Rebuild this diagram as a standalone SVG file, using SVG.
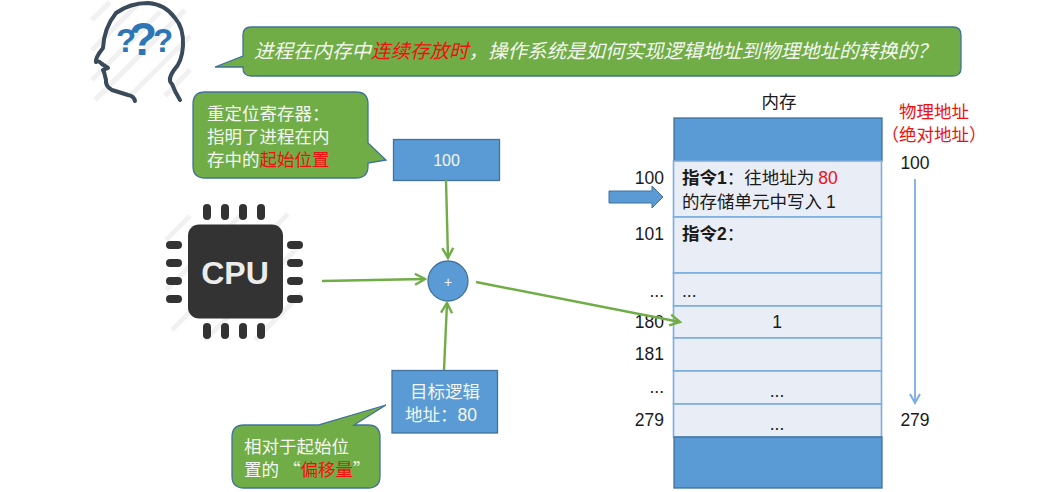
<svg xmlns="http://www.w3.org/2000/svg" width="1056" height="492" viewBox="0 0 1056 492">
<style>
text{font-family:"Liberation Sans","Noto Sans CJK SC",sans-serif;font-size:17.5px;fill:#1a1a1a}
.cjk{font-family:"Noto Sans CJK SC",sans-serif}
.w{fill:#f4f7f0}.r{fill:#f01010}.m{text-anchor:middle}
.call{fill:#70ad47;stroke:#41719c;stroke-width:1.3}
.box{fill:#5b9bd5;stroke:#41719c;stroke-width:1.3}
.cell{fill:#e9edf6;stroke:#7baee0;stroke-width:1.6}
.g{fill:none;stroke:#70ad47;stroke-width:2.4}
.hatch{stroke:#f1f1f1;stroke-width:5}
.pin{fill:#333;}
</style>
<defs>
<marker id="ga" markerUnits="userSpaceOnUse" markerWidth="14" markerHeight="14" refX="11" refY="7" orient="auto"><path d="M1,1.5 L11,7 L1,12.500" fill="none" stroke="#70ad47" stroke-width="2.400"/></marker>
<marker id="ba" markerUnits="userSpaceOnUse" markerWidth="14" markerHeight="14" refX="11" refY="7" orient="auto"><path d="M2,2 L11,7 L2,12" fill="none" stroke="#7baee0" stroke-width="2"/></marker>
</defs>

<g id="head">
<path class="hatch" d="M92,20 L110,2 M92,50 L140,2 M92,80 L160,12 M95,100 L185,10 M130,96 L190,36 M165,96 L190,70"/>
<path d="M135,101 Q134,96 128,95 L112,90 Q105,86 106,80 L104,72 L103,70 L108,68 L102,64 Q98,60 96,62 Q95,58 103,48 Q104,28 116,13 Q130,3 148,3 Q165,4 175,18 Q184,28 183,46 Q182,62 174,70 Q167,80 172,84 Q175,92 180,100" fill="none" stroke="#3a4a5a" stroke-width="4" stroke-linecap="round" stroke-linejoin="round"/>
<text x="143" y="55" class="m" style="font-size:46px;font-weight:bold;fill:#2e75b6">?</text>
<text x="126" y="52" class="m" style="font-size:33px;font-weight:bold;fill:#2e75b6">?</text>
<text x="163" y="52" class="m" style="font-size:33px;font-weight:bold;fill:#2e75b6">?</text>
</g>

<g id="question">
<path class="call" d="M251,27 H953 Q961,27 961,35 V68 Q961,76 953,76 H251 Q243,76 243,68 L243,67 L215,67 L243,56 V35 Q243,27 251,27 Z"/>
<text x="254" y="58" class="cjk" style="font-size:19.500px;font-style:italic;fill:#f4f7f0">进程在内存中<tspan class="r">连续存放时</tspan>，操作系统是如何实现逻辑地址到物理地址的转换的？</text>
</g>

<g id="reloc-note">
<path class="call" d="M205,92 H356 Q368,92 368,104 V143 L386,160 L368,163 V166 Q368,178 356,178 H205 Q193,178 193,166 V104 Q193,92 205,92 Z"/>
<text x="207" y="120" class="cjk w" style="font-size:17.500px">重定位寄存器：</text>
<text x="207" y="143" class="cjk w" style="font-size:17.500px">指明了进程在内</text>
<text x="207" y="166" class="cjk w" style="font-size:17.500px">存中的<tspan class="r">起始位置</tspan></text>
</g>

<g id="reg-100">
<rect class="box" x="393.500" y="139.500" width="106" height="41"/>
<text x="446.500" y="166" class="m w" style="font-size:16px">100</text>
</g>

<g id="cpu">
<path class="hatch" d="M166,240 L190,216 M166,290 L240,216 M172,330 L288,214 M205,340 L300,245 M255,340 L302,293"/>
<rect x="188" y="224.500" width="95" height="94" rx="11" fill="#333"/>
<g class="pin">
<rect x="203" y="204" width="8" height="16" rx="4"/><rect x="221" y="204" width="8" height="16" rx="4"/><rect x="239" y="204" width="8" height="16" rx="4"/><rect x="257" y="204" width="8" height="16" rx="4"/>
<rect x="203" y="323" width="8" height="16" rx="4"/><rect x="221" y="323" width="8" height="16" rx="4"/><rect x="239" y="323" width="8" height="16" rx="4"/><rect x="257" y="323" width="8" height="16" rx="4"/>
<rect x="166" y="241" width="16" height="8" rx="4"/><rect x="166" y="259" width="16" height="8" rx="4"/><rect x="166" y="277" width="16" height="8" rx="4"/><rect x="166" y="295" width="16" height="8" rx="4"/>
<rect x="287" y="241" width="16" height="8" rx="4"/><rect x="287" y="259" width="16" height="8" rx="4"/><rect x="287" y="277" width="16" height="8" rx="4"/><rect x="287" y="295" width="16" height="8" rx="4"/>
</g>
<text x="235" y="284" class="m" style="font-size:32px;font-weight:bold;fill:#ececec">CPU</text>
</g>

<g id="adder">
<circle class="box" cx="448" cy="281" r="20"/>
<text x="448" y="287" class="m w" style="font-size:14px">+</text>
</g>

<g id="target">
<rect class="box" x="392" y="370.500" width="105.500" height="62.500"/>
<text x="445" y="398" class="m cjk w" style="font-size:17.500px">目标逻辑</text>
<text x="405" y="421" class="cjk w" style="font-size:17.500px">地址：<tspan style="font-family:'Liberation Sans'">80</tspan></text>
</g>

<g id="offset-note">
<path class="call" d="M244,425 H318 L386,405 L354,425 H368 Q380,425 380,437 V476 Q380,488 368,488 H244 Q232,488 232,476 V437 Q232,425 244,425 Z"/>
<text x="244" y="453" class="cjk w" style="font-size:17.500px">相对于起始位</text>
<text x="244" y="476" class="cjk w" style="font-size:17.500px">置的 “<tspan class="r">偏移量</tspan>”</text>
</g>

<g id="memory">
<text x="779" y="108" class="m cjk" style="font-size:17.500px">内存</text>
<rect class="box" x="674" y="118" width="208" height="43"/>
<rect class="cell" x="673.500" y="161" width="208" height="56"/>
<rect class="cell" x="673.500" y="217" width="208" height="56"/>
<rect class="cell" x="673.500" y="273" width="208" height="33"/>
<rect class="cell" x="673.500" y="306" width="208" height="32"/>
<rect class="cell" x="673.500" y="338" width="208" height="33"/>
<rect class="cell" x="673.500" y="371" width="208" height="33"/>
<rect class="cell" x="673.500" y="404" width="208" height="33"/>
<rect class="box" x="674" y="437" width="208" height="51"/>
<text x="682" y="184" class="cjk"><tspan font-weight="bold">指令</tspan><tspan font-weight="bold" style="font-family:'Liberation Sans'">1</tspan>：往地址为 <tspan class="r" style="font-family:'Liberation Sans'">80</tspan></text>
<text x="682" y="208" class="cjk">的存储单元中写入 <tspan style="font-family:'Liberation Sans'">1</tspan></text>
<text x="682" y="240" class="cjk"><tspan font-weight="bold">指令</tspan><tspan font-weight="bold" style="font-family:'Liberation Sans'">2</tspan>：</text>
<text x="682" y="297">...</text>
<text x="777" y="328" class="m">1</text>
<text x="777" y="397" class="m">...</text>
<text x="777" y="430" class="m">...</text>
</g>

<g id="addr-labels">
<text x="664" y="184" text-anchor="end">100</text>
<text x="664" y="240" text-anchor="end">101</text>
<text x="664" y="297" text-anchor="end">...</text>
<text x="664" y="328" text-anchor="end">180</text>
<text x="664" y="360" text-anchor="end">181</text>
<text x="664" y="393" text-anchor="end">...</text>
<text x="664" y="426" text-anchor="end">279</text>
<text x="934" y="118" class="m cjk r" style="font-size:17.500px">物理地址</text>
<text x="934" y="141" class="m cjk r" style="font-size:17.500px">（绝对地址）</text>
<text x="915" y="169" class="m">100</text>
<text x="915" y="426" class="m">279</text>
</g>

<g id="connectors">
<path class="g" marker-end="url(#ga)" d="M446,180 L448,258"/>
<path class="g" marker-end="url(#ga)" d="M322,281 L425,279"/>
<path class="g" marker-end="url(#ga)" d="M444,370 L447,303"/>
<path class="g" marker-end="url(#ga)" d="M476,282 L680,322"/>
<path d="M915,179 V403" fill="none" stroke="#7baee0" stroke-width="1.800" marker-end="url(#ba)"/>
<path d="M609,191 H652 V186 L663,197 L652,208 V203 H609 Z" fill="#5b9bd5" stroke="#41719c" stroke-width="1"/>
</g>
</svg>
